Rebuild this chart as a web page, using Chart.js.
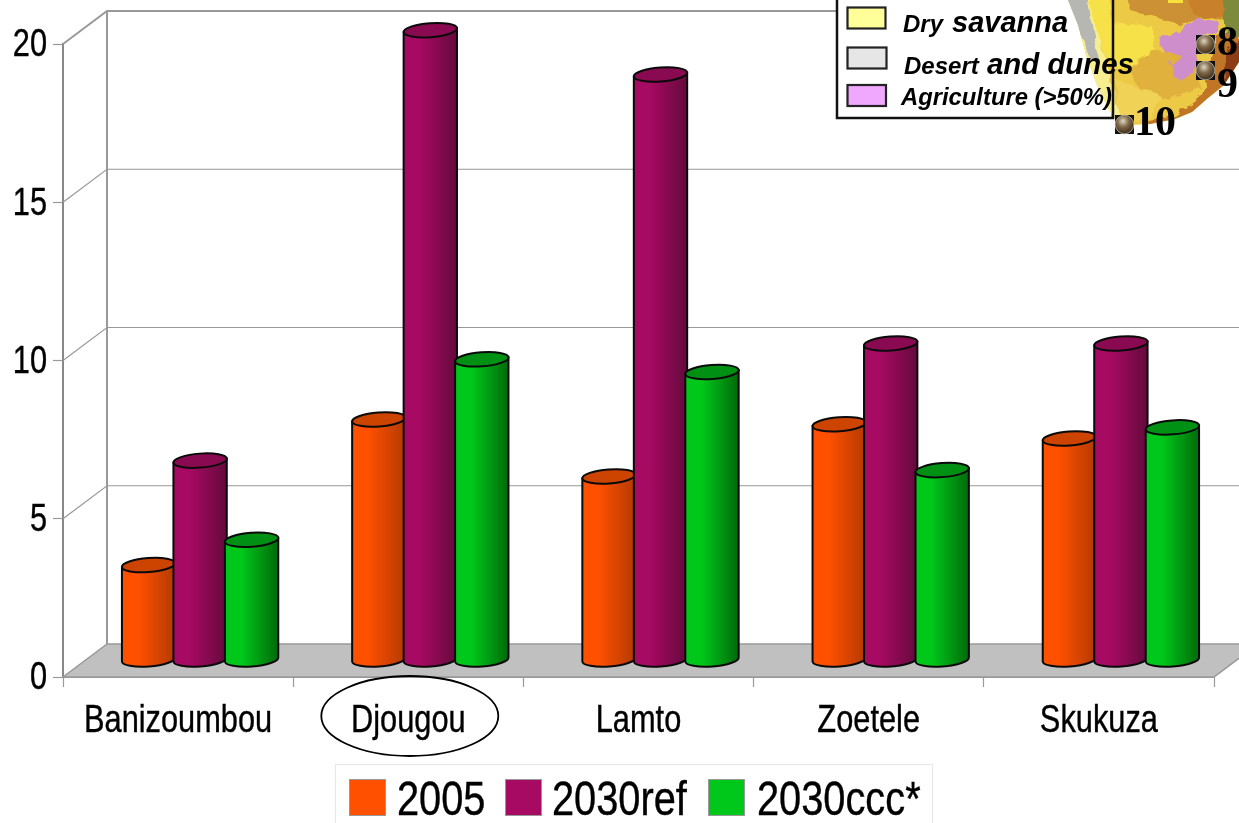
<!DOCTYPE html>
<html>
<head>
<meta charset="utf-8">
<title>Sites 2005 / 2030</title>
<script src="https://cdn.jsdelivr.net/npm/chart.js@4/dist/chart.umd.min.js"></script>
<style>
  html, body { margin: 0; padding: 0; background: #fff; overflow: hidden; }
  #wrap { position: relative; width: 1239px; height: 823px; }
  #grafico { position: absolute; left: 0; top: 0; }
  #mapa { position: absolute; left: 0; top: 0; pointer-events: none; }
  #leyenda {
    position: absolute; left: 335px; top: 764px; width: 598px; height: 59px;
    box-sizing: border-box; border: 1px solid #e6e6e6; border-bottom: none;
    font: 48.5px 'Liberation Sans', sans-serif; color: #000;
  }
  #leyenda span { position: absolute; top: 5px; line-height: 56px; white-space: nowrap; transform: scaleX(0.82); transform-origin: left center; -webkit-text-stroke: 0.4px #000; }
  #leyenda i { position: absolute; top: 14px; width: 37px; height: 37px; box-sizing: border-box; border: 1px solid #999; }
</style>
</head>
<body>
<div id="wrap">
  <canvas id="grafico" width="1239" height="823"></canvas>
  <svg id="mapa" width="1239" height="823" viewBox="0 0 1239 823">
    <defs>
      <filter id="soft" x="-5%" y="-5%" width="110%" height="110%">
        <feTurbulence type="fractalNoise" baseFrequency="0.09" numOctaves="3" seed="4" result="ruido"/>
        <feDisplacementMap in="SourceGraphic" in2="ruido" scale="9"/>
        <feGaussianBlur stdDeviation="0.7"/>
      </filter>
      <clipPath id="costa">
        <path d="M1068,0 L1078,25 L1086,55 L1097,85 L1108,108 L1116,120 L1130,125 L1150,124 L1175,119 L1192,112 L1208,98 L1224,85 L1239,62 L1239,0 Z"/>
      </clipPath>
      <radialGradient id="esfera" cx="0.42" cy="0.32" r="0.7">
        <stop offset="0" stop-color="#ded6c4"/>
        <stop offset="0.45" stop-color="#80684a"/>
        <stop offset="1" stop-color="#3a2a14"/>
      </radialGradient>
    </defs>

    <!-- recuadro de la leyenda del mapa -->
    <rect x="837" y="-4" width="276" height="122" fill="#fff" stroke="#111" stroke-width="2.5"/>

    <!-- mapa de vegetacion, esquina superior derecha -->
    <g clip-path="url(#costa)">
      <rect x="1060" y="0" width="180" height="130" fill="#ecca45"/>
      <g filter="url(#soft)">
        <path d="M1060,-10 L1095,-10 L1100,40 L1108,70 L1122,125 L1100,125 L1060,60 Z" fill="#f6ee90"/>
        <path d="M1086,-10 L1108,-10 L1112,22 L1152,26 L1154,60 L1132,64 L1118,72 L1105,55 L1098,35 Z" fill="#f6e149"/>
        <path d="M1150,50 L1195,52 L1200,88 L1170,100 L1140,92 L1130,70 Z" fill="#e0b23e"/>
        <path d="M1116,80 L1160,95 L1150,118 L1120,122 Z" fill="#f0d257"/>
        <path d="M1060,-10 L1086,-10 L1093,30 L1099,60 L1091,62 L1080,32 Z" fill="#b6b6b2"/>
        <path d="M1124,-10 L1239,-10 L1239,24 L1205,16 L1180,26 L1160,18 L1130,10 Z" fill="#cc9035"/>
        <path d="M1185,-10 L1230,-10 L1228,18 L1195,16 Z" fill="#c9802a"/>
        <path d="M1183,34 L1200,30 L1200,48 L1184,46 Z" fill="#8d4d1e"/>
        <path d="M1160,38 L1173,35 L1187,27 L1197,18 L1217,20 L1217,33 L1197,37 L1195,55 L1197,60 L1193,73 L1183,77 L1175,78 L1170,63 L1183,57 L1163,50 Z" fill="#cd8ecb"/>
        <path d="M1218,36 L1239,24 L1239,70 L1224,88 L1208,102 L1192,114 L1175,122 L1150,128 L1148,120 L1178,114 L1202,94 L1212,64 Z" fill="#c07628"/>
        <path d="M1222,-10 L1245,-10 L1245,40 L1226,34 Z" fill="#7d8a3a"/>
        <path d="M1226,50 L1245,36 L1245,66 L1224,88 Z" fill="#8d3d18"/>
      </g>
      <rect x="1168" y="-1" width="15" height="4" fill="#f6e23a"/>
    </g>
    <path d="M1113,-2 L1113,118" stroke="#111" stroke-width="2.5"/>

    <!-- muestras y textos de la leyenda del mapa -->
    <rect x="847.5" y="7.5" width="38" height="21" fill="#ffff99" stroke="#222" stroke-width="2.2"/>
    <rect x="847.5" y="47.5" width="39" height="21" fill="#e6e6e6" stroke="#222" stroke-width="2.2"/>
    <rect x="847.5" y="85" width="38.5" height="21" fill="#f0a8ff" stroke="#222" stroke-width="2.2"/>
    <g font-family="'Liberation Sans', sans-serif" font-style="italic" font-weight="bold" fill="#000">
      <text x="903" y="32" font-size="24">Dry</text>
      <text x="952" y="32" font-size="29">savanna</text>
      <text x="904" y="74" font-size="24">Desert</text>
      <text x="987" y="74" font-size="29.4">and dunes</text>
      <text x="901" y="105" font-size="23.8">Agriculture (&gt;50%)</text>
    </g>

    <!-- sitios marcados sobre el mapa -->
    <g>
      <rect x="1196" y="35" width="19" height="19" fill="#111"/>
      <circle cx="1205.5" cy="44.5" r="9.3" fill="url(#esfera)" stroke="#c9c3b6" stroke-width="0.8"/>
      <rect x="1196" y="61" width="19" height="19" fill="#111"/>
      <circle cx="1205.5" cy="70.5" r="9.3" fill="url(#esfera)" stroke="#c9c3b6" stroke-width="0.8"/>
      <rect x="1115" y="115" width="19" height="19" fill="#111"/>
      <circle cx="1124.5" cy="124.5" r="9.3" fill="url(#esfera)" stroke="#c9c3b6" stroke-width="0.8"/>
    </g>
    <g font-family="'Liberation Serif', serif" font-weight="bold" font-size="42" fill="#000">
      <text x="1217" y="55">8</text>
      <text x="1217" y="97">9</text>
      <text x="1134" y="135">10</text>
    </g>
  </svg>
  <div id="leyenda"></div>
</div>

<script>
// Sitios y escenarios
const sitios      = ['Banizoumbou', 'Djougou', 'Lamto', 'Zoetele', 'Skukuza'];
const serie2005   = [3.0, 7.6, 5.8, 7.45, 7.0];
const serie2030r  = [6.3, 19.9, 18.5, 10.0, 10.0];
const serie2030c  = [3.8, 9.5, 9.1, 6.0, 7.35];
const ticksY      = [0, 5, 10, 15, 20];

const nombres  = ['2005', '2030ref', '2030ccc*'];
const claros   = ['#ff5000', '#a60a62', '#00c81a'];
const oscuros  = ['#b23a00', '#640a3c', '#006a0a'];
const tapas    = ['#cc4400', '#8a0a52', '#009014'];

const FUENTE = "'Liberation Sans', sans-serif";
const ANGOSTO = 0.81;   // los rotulos van comprimidos a lo ancho
const TAM_ROTULO = 38;

// Desplazamiento de la pared de fondo y del centro de los cilindros
const FONDO_X = 44, FONDO_Y = 33;
const CIL_X = 22, CIL_Y = 17;

// Pared, piso y rejilla en perspectiva
const cajaPlugin = {
  id: 'caja',
  beforeDatasetsDraw(chart) {
    const ctx = chart.ctx;
    const { left, right } = chart.chartArea;
    const y = chart.scales.y;
    const piso = y.getPixelForValue(0);
    const techo = y.getPixelForValue(20);

    ctx.save();
    ctx.beginPath();
    ctx.moveTo(left, piso);
    ctx.lineTo(left + FONDO_X, piso - FONDO_Y);
    ctx.lineTo(right + FONDO_X, piso - FONDO_Y);
    ctx.lineTo(right, piso);
    ctx.closePath();
    ctx.fillStyle = '#c0c0c0';
    ctx.fill();
    ctx.strokeStyle = '#999';
    ctx.lineWidth = 1.5;
    ctx.stroke();

    ticksY.forEach(t => {
      if (t === 0) return;
      const py = y.getPixelForValue(t);
      ctx.beginPath();
      ctx.moveTo(left, py);
      ctx.lineTo(left + FONDO_X, py - FONDO_Y);
      ctx.lineTo(right + FONDO_X, py - FONDO_Y);
      ctx.strokeStyle = '#999';
      ctx.lineWidth = t === 20 ? 2 : 1.2;
      ctx.stroke();
    });

    ctx.beginPath();
    ctx.moveTo(left + FONDO_X, techo - FONDO_Y);
    ctx.lineTo(left + FONDO_X, piso - FONDO_Y);
    ctx.strokeStyle = '#999';
    ctx.lineWidth = 2;
    ctx.stroke();
    ctx.restore();
  }
};

// Cada barra se pinta como cilindro usando la geometria que calcula Chart.js
const cilindrosPlugin = {
  id: 'cilindros',
  afterDatasetsDraw(chart) {
    const ctx = chart.ctx;
    const metas = chart.data.datasets.map((_, i) => chart.getDatasetMeta(i));
    const giro = -0.075, ry = 7;

    sitios.forEach((_, idx) => {
      metas.forEach((meta, s) => {
        const bar = meta.data[idx];
        const cx = bar.x + CIL_X;
        const arriba = bar.y - CIL_Y;
        const abajo = bar.base - CIL_Y;
        const rx = bar.width / 2 + 1;
        const bx = rx * Math.cos(giro), by = rx * Math.sin(giro);

        const grad = ctx.createLinearGradient(cx - rx, 0, cx + rx, 0);
        grad.addColorStop(0, claros[s]);
        grad.addColorStop(0.3, claros[s]);
        grad.addColorStop(1, oscuros[s]);

        ctx.save();
        ctx.lineWidth = 2;
        ctx.strokeStyle = '#0a0a0a';

        ctx.beginPath();
        ctx.moveTo(cx - bx, arriba - by);
        ctx.lineTo(cx - bx, abajo - by);
        ctx.ellipse(cx, abajo, rx, ry, giro, Math.PI, 0, true);
        ctx.lineTo(cx + bx, arriba + by);
        ctx.closePath();
        ctx.fillStyle = grad;
        ctx.fill();
        ctx.stroke();

        ctx.beginPath();
        ctx.ellipse(cx, arriba, rx, ry, giro, 0, Math.PI * 2);
        ctx.fillStyle = tapas[s];
        ctx.fill();
        ctx.stroke();
        ctx.restore();
      });
    });
  }
};

// Rotulos de los ejes, tomados de las escalas y comprimidos a lo ancho
function rotuloAngosto(ctx, texto, x, y, alinear) {
  ctx.save();
  ctx.translate(x, y);
  ctx.scale(ANGOSTO, 1);
  ctx.font = TAM_ROTULO + 'px ' + FUENTE;
  ctx.fillStyle = '#000';
  ctx.strokeStyle = '#000';
  ctx.lineWidth = 0.4;
  ctx.textAlign = alinear;
  ctx.textBaseline = 'middle';
  ctx.fillText(texto, 0, 0);
  ctx.strokeText(texto, 0, 0);
  ctx.restore();
}

const rotulosPlugin = {
  id: 'rotulos',
  afterDraw(chart) {
    const ctx = chart.ctx;
    const { x, y } = chart.scales;
    x.getTicks().forEach((t, i) => rotuloAngosto(ctx, t.label, x.getPixelForTick(i), 722, 'center'));
    y.getTicks().forEach((t, i) => rotuloAngosto(ctx, t.label, 47, y.getPixelForTick(i) + 2, 'right'));
  }
};

// Ovalo que destaca el sitio Djougou
const ovaloPlugin = {
  id: 'ovalo',
  afterDraw(chart) {
    const ctx = chart.ctx;
    const x = chart.scales.x.getPixelForValue(sitios.indexOf('Djougou'));
    ctx.save();
    ctx.beginPath();
    ctx.ellipse(x + 1.5, 716, 88.5, 40, 0, 0, Math.PI * 2);
    ctx.strokeStyle = '#000';
    ctx.lineWidth = 1.8;
    ctx.stroke();
    ctx.restore();
  }
};

const series = [serie2005, serie2030r, serie2030c];

new Chart(document.getElementById('grafico'), {
  type: 'bar',
  data: {
    labels: sitios,
    datasets: series.map((valores, i) => ({
      label: nombres[i],
      data: valores,
      backgroundColor: 'transparent',
      borderWidth: 0,
      barPercentage: 1,
      categoryPercentage: 0.671,
    }))
  },
  options: {
    responsive: false,
    animation: false,
    layout: { padding: { top: 44, right: 25, left: 0, bottom: 0 } },
    plugins: { legend: { display: false }, tooltip: { enabled: false } },
    scales: {
      x: {
        afterFit: (escala) => { escala.height = 146; },
        grid: { drawOnChartArea: false, drawTicks: true, tickLength: 10, tickColor: '#999', tickWidth: 1.2 },
        border: { color: '#999', width: 2 },
        ticks: { display: false, autoSkip: false, maxRotation: 0 }
      },
      y: {
        min: 0,
        max: 20,
        afterFit: (escala) => { escala.width = 63; },
        afterBuildTicks: (escala) => { escala.ticks = ticksY.map(value => ({ value })); },
        grid: { drawOnChartArea: false, drawTicks: true, tickLength: 10, tickColor: '#999', tickWidth: 1.2 },
        border: { color: '#888', width: 2 },
        ticks: { display: false }
      }
    }
  },
  plugins: [cajaPlugin, cilindrosPlugin, rotulosPlugin, ovaloPlugin]
});

// Leyenda inferior
const leyenda = document.getElementById('leyenda');
const colMuestra = [13, 169, 372];
const colTexto   = [61, 216, 421];
nombres.forEach((nombre, i) => {
  const m = document.createElement('i');
  m.style.left = colMuestra[i] + 'px';
  m.style.background = claros[i];
  leyenda.appendChild(m);
  const t = document.createElement('span');
  t.style.left = colTexto[i] + 'px';
  t.textContent = nombre;
  leyenda.appendChild(t);
});
</script>
</body>
</html>
